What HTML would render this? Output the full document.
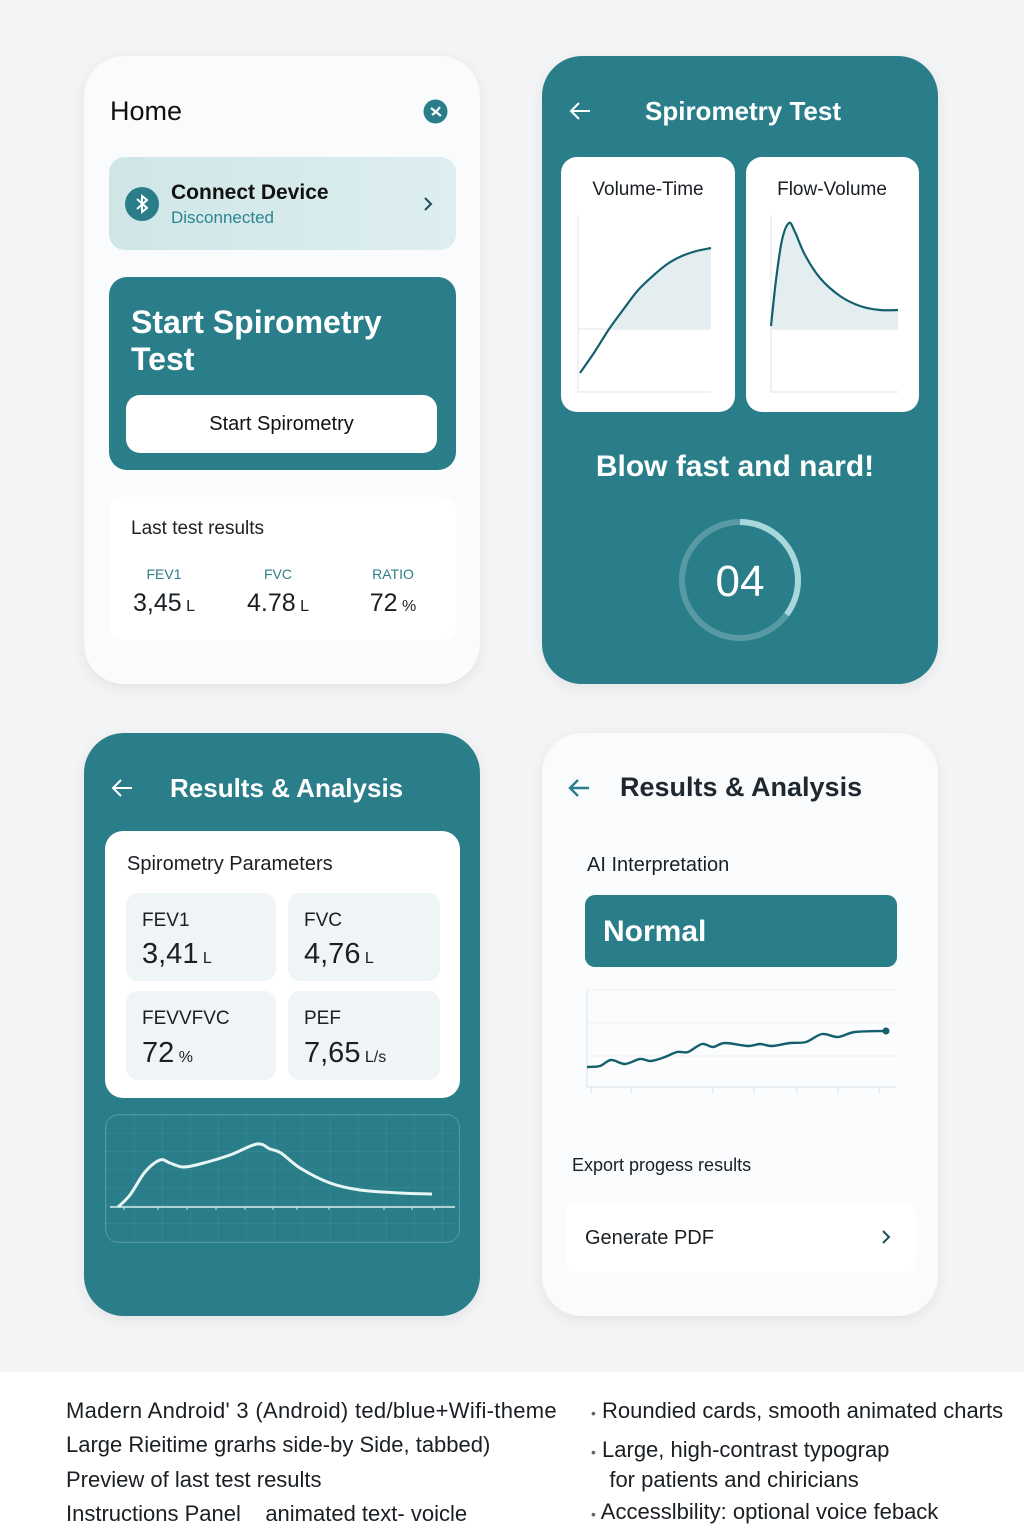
<!DOCTYPE html>
<html><head><meta charset="utf-8">
<style>
*{box-sizing:border-box;margin:0;padding:0}
body{width:1024px;height:1536px;background:#fff;font-family:"Liberation Sans",sans-serif;position:relative;overflow:hidden;color:#1a1f24}
.abs{position:absolute}
.top{position:absolute;left:0;top:0;width:1024px;height:1372px;background:#f3f4f6}
.card{position:absolute;border-radius:40px;box-shadow:0 4px 14px rgba(0,0,0,.07)}
.teal{background:#2a7e8a}
.white{background:#f9fbfc}
.t{position:absolute;white-space:nowrap;line-height:1}
</style></head><body>
<div class="top"></div>

<!-- Home card -->
<div class="card white" style="left:84px;top:56px;width:396px;height:628px"></div>
<div class="t" style="left:110px;top:98px;font-size:27px;color:#111">Home</div>
<svg class="abs" style="left:423px;top:99px" width="25" height="25"><circle cx="12.5" cy="12.5" r="12" fill="#2a7e8a"/><path d="M8 9l5 4-4 3M17 8l-4 5 5 4" stroke="#fff" stroke-width="2.2" fill="none"/></svg>
<div class="abs" style="left:109px;top:157px;width:347px;height:93px;border-radius:16px;background:linear-gradient(90deg,#cfe6e7,#ddeef0)"></div>
<svg class="abs" style="left:125px;top:187px" width="34" height="34"><circle cx="17" cy="17" r="17" fill="#2a7e8a"/><path d="M12 12l10 9-5 4V9l5 4-10 9" stroke="#fff" stroke-width="2" fill="none"/></svg>
<div class="t" style="left:171px;top:182px;font-size:21px;font-weight:bold;color:#111">Connect Device</div>
<div class="t" style="left:171px;top:209px;font-size:17px;color:#2c8591">Disconnected</div>
<svg class="abs" style="left:422px;top:196px" width="12" height="16"><path d="M3 2l6 6-6 6" stroke="#1e4f58" stroke-width="2" fill="none"/></svg>
<div class="abs teal" style="left:109px;top:277px;width:347px;height:193px;border-radius:18px"></div>
<div class="t" style="left:131px;top:304px;font-size:32px;font-weight:bold;color:#fff;line-height:37px">Start Spirometry<br>Test</div>
<div class="abs" style="left:126px;top:395px;width:311px;height:58px;border-radius:14px;background:#fff;font-size:20px;text-align:center;line-height:58px;color:#111">Start Spirometry</div>
<div class="abs" style="left:109px;top:497px;width:347px;height:143px;border-radius:12px;background:#fff"></div>
<div class="t" style="left:131px;top:519px;font-size:19px;color:#222">Last test results</div>
<div class="t" style="left:164px;top:567px;font-size:14px;color:#2c7f8a;transform:translateX(-50%)">FEV1</div>
<div class="t" style="left:278px;top:567px;font-size:14px;color:#2c7f8a;transform:translateX(-50%)">FVC</div>
<div class="t" style="left:393px;top:567px;font-size:14px;color:#2c7f8a;transform:translateX(-50%)">RATIO</div>
<div class="t" style="left:164px;top:591px;font-size:25px;transform:translateX(-50%)">3,45<span style="font-size:16px"> L</span></div>
<div class="t" style="left:278px;top:591px;font-size:25px;transform:translateX(-50%)">4.78<span style="font-size:16px"> L</span></div>
<div class="t" style="left:393px;top:591px;font-size:25px;transform:translateX(-50%)">72<span style="font-size:16px"> %</span></div>

<!-- Spirometry test card -->
<div class="card teal" style="left:542px;top:56px;width:396px;height:628px"></div>
<svg class="abs" style="left:568px;top:100px" width="24" height="22"><path d="M22 11H3M11 3l-8 8 8 8" stroke="#fff" stroke-width="2" fill="none"/></svg>
<div class="t" style="left:743px;top:98px;font-size:26px;font-weight:bold;color:#fff;transform:translateX(-50%)">Spirometry Test</div>
<div class="abs" style="left:561px;top:157px;width:174px;height:255px;border-radius:16px;background:#fff"></div>
<div class="abs" style="left:746px;top:157px;width:173px;height:255px;border-radius:16px;background:#fff"></div>
<div class="t" style="left:648px;top:180px;font-size:19px;transform:translateX(-50%)">Volume-Time</div>
<div class="t" style="left:832px;top:180px;font-size:19px;transform:translateX(-50%)">Flow-Volume</div>
<svg class="abs" id="svgTop" style="left:0;top:0" width="1024" height="700"></svg>
<div class="t" style="left:735px;top:452px;font-size:30px;font-weight:bold;color:#fff;transform:translateX(-50%)">Blow fast and nard!</div>
<svg class="abs" style="left:674px;top:514px" width="132" height="132"><circle cx="66" cy="66" r="58" fill="none" stroke="rgba(255,255,255,.22)" stroke-width="6"/><circle cx="66" cy="66" r="58" fill="none" stroke="#a9d8dc" stroke-width="6" stroke-dasharray="128 400" transform="rotate(-90 66 66)"/></svg>
<div class="t" style="left:740px;top:560px;font-size:44px;color:#fff;transform:translateX(-50%)">04</div>

<!-- Results left -->
<div class="card teal" style="left:84px;top:733px;width:396px;height:583px"></div>
<svg class="abs" style="left:110px;top:777px" width="24" height="22"><path d="M22 11H3M11 3l-8 8 8 8" stroke="#fff" stroke-width="2" fill="none"/></svg>
<div class="t" style="left:170px;top:775px;font-size:26px;font-weight:bold;color:#fff">Results &amp; Analysis</div>
<div class="abs" style="left:105px;top:831px;width:355px;height:267px;border-radius:18px;background:#fff"></div>
<div class="t" style="left:127px;top:854px;font-size:20px">Spirometry Parameters</div>
<div class="abs" style="left:126px;top:893px;width:150px;height:88px;border-radius:12px;background:#eff5f7"></div>
<div class="abs" style="left:288px;top:893px;width:152px;height:88px;border-radius:12px;background:#eff5f7"></div>
<div class="abs" style="left:126px;top:991px;width:150px;height:89px;border-radius:12px;background:#eff5f7"></div>
<div class="abs" style="left:288px;top:991px;width:152px;height:89px;border-radius:12px;background:#eff5f7"></div>
<div class="t" style="left:142px;top:911px;font-size:19px">FEV1</div>
<div class="t" style="left:142px;top:940px;font-size:29px">3,41<span style="font-size:16px"> L</span></div>
<div class="t" style="left:304px;top:911px;font-size:19px">FVC</div>
<div class="t" style="left:304px;top:940px;font-size:29px">4,76<span style="font-size:16px"> L</span></div>
<div class="t" style="left:142px;top:1009px;font-size:19px">FEVVFVC</div>
<div class="t" style="left:142px;top:1039px;font-size:29px">72<span style="font-size:16px"> %</span></div>
<div class="t" style="left:304px;top:1009px;font-size:19px">PEF</div>
<div class="t" style="left:304px;top:1039px;font-size:29px">7,65<span style="font-size:16px"> L/s</span></div>
<div class="abs" style="left:105px;top:1114px;width:355px;height:129px;border-radius:14px;border:1px solid rgba(255,255,255,.2);background-image:linear-gradient(rgba(255,255,255,.05) 1px,transparent 1px),linear-gradient(90deg,rgba(255,255,255,.05) 1px,transparent 1px);background-size:28px 18px"></div>

<!-- Results right -->
<div class="card white" style="left:542px;top:733px;width:396px;height:583px"></div>
<svg class="abs" style="left:567px;top:777px" width="24" height="22"><path d="M22 11H3M11 3l-8 8 8 8" stroke="#2a7e8a" stroke-width="2.4" fill="none"/></svg>
<div class="t" style="left:620px;top:774px;font-size:27px;font-weight:bold;color:#1f2730">Results &amp; Analysis</div>
<div class="abs" style="left:565px;top:833px;width:351px;height:287px;border-radius:12px;background:#fbfcfd"></div>
<div class="t" style="left:587px;top:855px;font-size:20px">AI Interpretation</div>
<div class="abs teal" style="left:585px;top:895px;width:312px;height:72px;border-radius:10px"></div>
<div class="t" style="left:603px;top:917px;font-size:30px;font-weight:bold;color:#fff">Normal</div>
<div class="t" style="left:572px;top:1156px;font-size:18px">Export progess results</div>
<div class="abs" style="left:565px;top:1203px;width:351px;height:69px;border-radius:10px;background:#fff"></div>
<div class="t" style="left:585px;top:1228px;font-size:20px">Generate PDF</div>
<svg class="abs" style="left:880px;top:1229px" width="12" height="16"><path d="M3 2l6 6-6 6" stroke="#1e4f58" stroke-width="2" fill="none"/></svg>

<svg class="abs" id="svgBot" style="left:0;top:700px" width="1024" height="600"></svg>

<!-- Footer -->
<div class="t" style="left:66px;top:1400px;font-size:22px;letter-spacing:0.3px">Madern Android' 3 (Android) ted/blue+Wifi-theme</div>
<div class="t" style="left:66px;top:1434px;font-size:22px">Large Rieitime grarhs side-by Side, tabbed)</div>
<div class="t" style="left:66px;top:1469px;font-size:22px">Preview of last test results</div>
<div class="t" style="left:66px;top:1503px;font-size:22px">Instructions Panel &nbsp;&nbsp; animated text- voicle</div>
<div class="t" style="left:591px;top:1400px;font-size:22px"><span style="font-size:14px;color:#666">•</span> Roundied cards, smooth animated charts</div>
<div class="t" style="left:591px;top:1436px;font-size:22px;line-height:27px"><span style="font-size:14px;color:#666">•</span> Large, high-contrast typograp<br>&nbsp;&nbsp; for patients and chiricians</div>
<div class="t" style="left:591px;top:1501px;font-size:22px"><span style="font-size:14px;color:#666">•</span> Accesslbility: optional voice feback</div>

<script>
// Volume-time chart
const vtTime=[0,1,2,3,4,5,6,7,8,9];
const vtVolume=[-44,-23,0,20,39,53,65,73,78,81];
// Flow-volume chart
const fvVolume=[0,5,11,18,24,34,49,69,89,109,127];
const fvFlow=[3,49,89,106,97,74,51,33,23,19,19];
// Results flow curve
const rfX=[0,12,27,42,52,65,82,112,139,152,163,182,212,242,282,314];
const rfY=[0,12,35,47,44,40,43,52,63,58,54,39,24,17,14,13];
// AI trend
const trendIdx=[0,13,24,38,53,64,78,90,101,115,126,138,161,173,185,203,219,235,251,268,299];
const trendVal=[20,21,27,23,28,26,30,35,35,43,40,44,41,43,41,44,45,53,50,55,56];

const NS='http://www.w3.org/2000/svg';
function mk(svg,tag,attrs){const e=document.createElementNS(NS,tag);for(const k in attrs)e.setAttribute(k,attrs[k]);svg.appendChild(e);return e;}
function smooth(p){let d='M'+p[0][0]+','+p[0][1];for(let i=0;i<p.length-1;i++){const p0=p[i-1]||p[i],p1=p[i],p2=p[i+1],p3=p[i+2]||p2;d+=' C'+(p1[0]+(p2[0]-p0[0])/6)+','+(p1[1]+(p2[1]-p0[1])/6)+' '+(p2[0]-(p3[0]-p1[0])/6)+','+(p2[1]-(p3[1]-p1[1])/6)+' '+p2[0]+','+p2[1];}return d;}
function lin(d0,d1,r0,r1){return v=>r0+(v-d0)*(r1-r0)/(d1-d0);}

const svgT=document.getElementById('svgTop');
mk(svgT,'path',{d:'M578 215V392H711M578 329H711',stroke:'#dde5e8','stroke-width':1,fill:'none'});
const vx=lin(0,9,580,711),vy=lin(0,81,329,248);
const vp=vtTime.map((t,i)=>[vx(t),vy(vtVolume[i])]);
const vfill=vp.filter((p,i)=>vtVolume[i]>=0);
let a=mk(svgT,'path',{d:smooth(vfill)+' L'+vfill[vfill.length-1][0]+',329 L'+vfill[0][0]+',329Z',fill:'#e4eef1'});


let l=mk(svgT,'path',{d:smooth(vp),stroke:'#13606c','stroke-width':2.2,fill:'none'});


mk(svgT,'path',{d:'M771 215V392H898M771 329H898',stroke:'#dde5e8','stroke-width':1,fill:'none'});
const fx=lin(0,127,771,898),fy=lin(0,106,329,223);
const fp=fvVolume.map((v,i)=>[fx(v),fy(fvFlow[i])]);
a=mk(svgT,'path',{d:smooth(fp)+' L898,329 L771,329Z',fill:'#e4eef1'});


l=mk(svgT,'path',{d:smooth(fp),stroke:'#13606c','stroke-width':2.2,fill:'none'});



const svgB=document.getElementById('svgBot');
const off=700;
mk(svgB,'line',{x1:110,x2:455,y1:1207-off,y2:1207-off,stroke:'#d8eef0','stroke-width':1.5});
[124,158,187,216,245,273,297,329,384,412,434].forEach(x=>mk(svgB,'line',{x1:x,x2:x,y1:1207-off,y2:1210-off,stroke:'#cfe8ea','stroke-width':1}));
const rx=lin(0,314,118,432),ry=lin(0,63,1207-off,1144-off);
const rp=rfX.map((v,i)=>[rx(v),ry(rfY[i])]);
l=mk(svgB,'path',{d:smooth(rp),stroke:'#e8f7f6','stroke-width':3,fill:'none'});


[990,1023,1056].forEach(y=>mk(svgB,'line',{x1:587,x2:897,y1:y-off,y2:y-off,stroke:'#eceff1','stroke-width':1}));
mk(svgB,'path',{d:'M587 '+(990-off)+'V'+(1087-off)+'H897',stroke:'#dfe3e6','stroke-width':1,fill:'none'});
[591,631,713,754,797,838,879].forEach(x=>mk(svgB,'line',{x1:x,x2:x,y1:1087-off,y2:1094-off,stroke:'#dfe3e6','stroke-width':1}));
const tx=lin(0,299,587,886),ty=lin(0,97,1087-off,990-off);
const tp=trendIdx.map((v,i)=>[tx(v),ty(trendVal[i])]);
l=mk(svgB,'path',{d:smooth(tp),stroke:'#135f6b','stroke-width':2.4,fill:'none'});


const last=tp[tp.length-1];
const c=mk(svgB,'circle',{cx:last[0],cy:last[1],r:3.5,fill:'#135f6b'});


</script>
</body></html>
